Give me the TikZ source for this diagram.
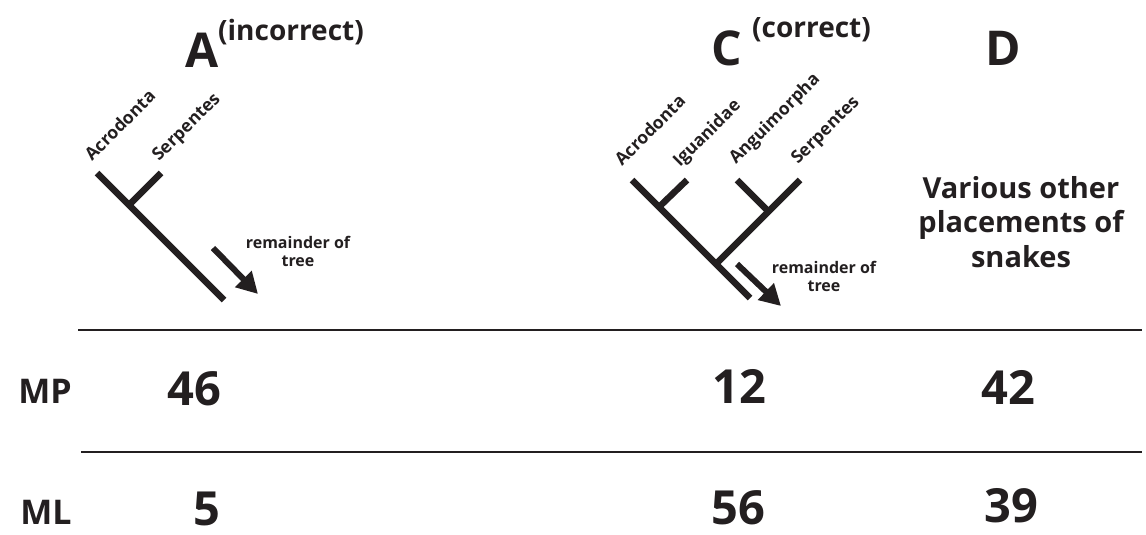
\documentclass[tikz,border=0pt]{standalone}
\usepackage{fontspec}
\setmainfont{Open Sans}
\usetikzlibrary{arrows.meta}
\definecolor{ink}{HTML}{231F20}
\tikzset{branch/.style={draw=ink, line width=6.5pt}, }
\tikzset{rule/.style={draw=ink, line width=2.6pt}, }
\tikzset{tip/.style={-{Triangle[length=21pt,width=22pt]}, draw=ink, fill=ink, line width=6pt}, }
\tikzset{taxon/.style={text=ink, font=\fontsize{17.5}{18}\selectfont\bfseries, rotate=45, anchor=base west, inner sep=0pt}, }
\tikzset{note/.style={text=ink, font=\fontsize{16}{18}\selectfont\bfseries, align=center, inner sep=0pt}, }
\tikzset{letter/.style={text=ink, font=\fontsize{48}{50}\selectfont\bfseries, inner sep=0pt}, }
\tikzset{remark/.style={text=ink, font=\fontsize{28}{30}\selectfont\bfseries, anchor=base west, inner sep=0pt}, }
\tikzset{score/.style={text=ink, font=\fontsize{47}{50}\selectfont\bfseries, inner sep=0pt}, }
\tikzset{row/.style={text=ink, font=\fontsize{34}{36}\selectfont\bfseries, inner sep=0pt}, }

\begin{document}
\begin{tikzpicture}[x=1pt,y=-1pt]
	\useasboundingbox (0,0) rectangle (1146,535);

	% tree A: snakes next to Acrodonta
	\coordinate (acroA) at (97,173);
	\coordinate (serpA) at (161,173);
	\coordinate (nodeA) at (129,205);
	\coordinate (rootA) at (224,300);
	\path[branch]
		(acroA) edge (rootA)
		(serpA) edge (nodeA)
		;
	\node[taxon] (acroAlbl) at ([shift={(-5,-11)}]acroA) {Acrodonta};
	\node[taxon] (serpAlbl) at ([shift={(-2,-11)}]serpA) {Serpentes};
	\coordinate (restAa) at (213,248);
	\coordinate (restAb) at (258,294);
	\draw[tip] (restAa) -- (restAb);
	\node[note] (restAlbl) at (298,251) {remainder of\\tree};

	% tree C: snakes next to Anguimorpha
	\coordinate (acroC) at (632,180);
	\coordinate (iguaC) at (687,180);
	\coordinate (anguC) at (737,180);
	\coordinate (serpC) at (800,180);
	\coordinate (nodeCa) at (659,207);
	\coordinate (nodeCb) at (768,211);
	\coordinate (nodeC) at (716,264);
	\coordinate (rootC) at (750,298);
	\path[branch]
		(acroC) edge (rootC)
		(iguaC) edge (nodeCa)
		(serpC) edge (nodeC)
		(anguC) edge (nodeCb)
		;
	\node[taxon] (acroClbl) at ([shift={(-10,-13)}]acroC) {Acrodonta};
	\node[taxon] (iguaClbl) at ([shift={(-7,-12)}]iguaC) {Iguanidae};
	\node[taxon] (anguClbl) at ([shift={(-1,-15)}]anguC) {Anguimorpha};
	\node[taxon] (serpClbl) at ([shift={(-2,-15)}]serpC) {Serpentes};
	\coordinate (restCa) at (737,264);
	\coordinate (restCb) at (781,306);
	\draw[tip] (restCa) -- (restCb);
	\node[note] (restClbl) at (824,276) {remainder of\\tree};

	% column heads
	\node[letter] (headA) at (202,50) {A};
	\node[remark] (noteA) at (218,41) {(incorrect)};
	\node[letter] (headC) at (727,48) {C};
	\node[remark] (noteC) at (752,38) {(correct)};
	\node[letter] (headD) at (1003,48) {D};
	\node[text=ink, font=\fontsize{29}{34.5}\selectfont\bfseries, align=center, inner sep=0pt] (other) at (1021,222) {Various other\\placements of\\snakes};

	% table rules
	\coordinate (ruleAl) at (78,330);
	\coordinate (ruleAr) at (1142,330);
	\coordinate (ruleBl) at (81,452);
	\coordinate (ruleBr) at (1142,452);
	\draw[rule] (ruleAl) -- (ruleAr);
	\draw[rule] (ruleBl) -- (ruleBr);

	% scores
	\node[row] (mp) at (45,391) {MP};
	\node[score] (mpA) at (194,389) {46};
	\node[score] (mpC) at (739,386) {12};
	\node[score] (mpD) at (1008,387) {42};
	\node[row] (ml) at (46,512) {ML};
	\node[score] (mlA) at (207,509) {5};
	\node[score] (mlC) at (738,508) {56};
	\node[score] (mlD) at (1011,506) {39};
\end{tikzpicture}
\end{document}
